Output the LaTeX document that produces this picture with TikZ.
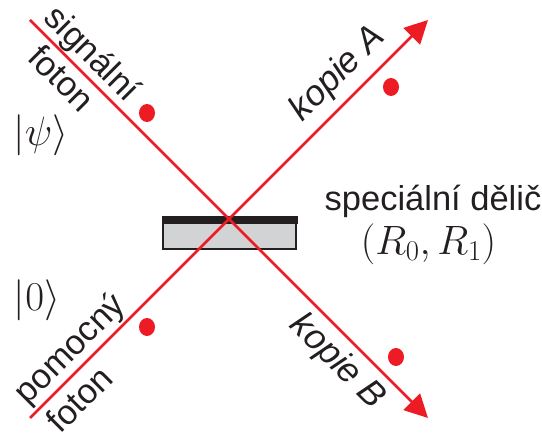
\RequirePackage{fix-cm}
\documentclass[tikz,border=0pt]{standalone}
\usepackage{fontspec}
\setmainfont{Liberation Sans}
\usetikzlibrary{arrows.meta,shapes.geometric}
\definecolor{beamred}{HTML}{ED1C24}
\definecolor{inkblack}{HTML}{231F20}
\definecolor{plategray}{HTML}{D1D3D4}
\tikzset{
  beam/.style={draw=beamred,line width=2.7pt},
  beamarrow/.style={beam,-{Triangle[length=23pt,width=23pt,fill=beamred]}},
  lab/.style={inner sep=0pt,text=inkblack,font=\fontsize{34.5}{36}\selectfont},
  itlab/.style={lab,font=\fontsize{35.5}{37}\selectfont\itshape},
  dotmark/.style={ellipse,fill=beamred,minimum width=16pt,minimum height=18pt,inner sep=0pt},
  ket/.style={inner sep=0pt,text=inkblack,font=\fontsize{41}{43}\selectfont}
}
\begin{document}
\begin{tikzpicture}[x=1pt,y=-1pt]
\useasboundingbox (0,0) rectangle (542,438);
% splitter
\node[draw=inkblack,line width=2.2pt,fill=plategray,minimum width=133pt,minimum height=31pt,inner sep=0pt,anchor=center] (plate) at (229.5,233.5) {};
\fill[inkblack] (161.5,216.5) rectangle (297.5,224.2);
% beams
\coordinate (sigstart) at (30,20);
\coordinate (auxstart) at (30,418);
\coordinate (tipA) at (428,20);
\coordinate (tipB) at (428,418);
\draw[beamarrow] (sigstart) -- (tipB);
\draw[beamarrow] (auxstart) -- (tipA);
% dots
\node[dotmark] (d1) at (147,113) {};
\node[dotmark] (d2) at (391,87) {};
\node[dotmark] (d3) at (147,327) {};
\node[dotmark] (d4) at (396,357) {};
% labels
\node[lab,rotate=-45] (t1) at (91,55) {signální};
\node[lab,rotate=-45] (t2) at (62,78) {foton};
\node[lab,rotate=45] (t3) at (71,350) {pomocný};
\node[lab,rotate=45] (t4) at (79,399) {foton};
\node[itlab,rotate=45] (t5) at (338,74) {kopie A};
\node[itlab,rotate=-45] (t6) at (337,362) {kopie B};
\node[lab] (t7) at (433,201) {speciální dělič};
\node[ket] (t8) at (428.5,244) {$(R_0,R_1)$};
\node[ket] (k1) at (41,135) {$|\psi\rangle$};
\node[ket] (k2) at (37,300) {$|0\rangle$};
\end{tikzpicture}
\end{document}
